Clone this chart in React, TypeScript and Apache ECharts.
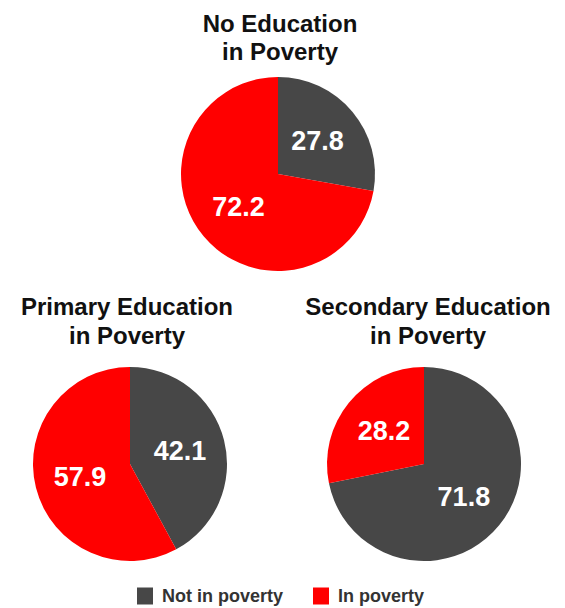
import React, { useEffect, useRef } from "react";
import * as echarts from "echarts";

const categories = ["Not in poverty", "In poverty"];
const colors = ["#474747", "#ff0000"];
const groups = ["No Education", "Primary Education", "Secondary Education"];
const titleSecondLine = "in Poverty";
const notInPoverty = [27.8, 42.1, 71.8];
const inPoverty = [72.2, 57.9, 28.2];

const centers: [number, number][] = [
  [278, 174],
  [130, 464],
  [424, 464],
];
const titleY: [number, number][] = [
  [23, 51],
  [306, 335],
];

export default function App() {
  const ref = useRef<HTMLDivElement>(null);
  useEffect(() => {
    document.body.style.margin = "0";
    if (!ref.current) return;
    const chart = echarts.init(ref.current, null, { renderer: "svg" });
    const font = "'Liberation Sans', Arial, Helvetica, sans-serif";
    const series = groups.map((g, i) => ({
      type: "pie",
      name: g,
      center: centers[i],
      radius: 97,
      startAngle: 90,
      clockwise: true,
      avoidLabelOverlap: false,
      silent: true,
      emphasis: { disabled: true },
      itemStyle: { borderWidth: 0 },
      label: {
        show: true,
        position: "inside",
        formatter: "{c}",
        color: "#ffffff",
        fontSize: 27,
        fontWeight: "bold",
        fontFamily: font,
      },
      labelLine: { show: false },
      data: [
        { name: categories[0], value: notInPoverty[i], itemStyle: { color: colors[0] } },
        { name: categories[1], value: inPoverty[i], itemStyle: { color: colors[1] } },
      ],
    }));
    const graphics: any[] = [];
    groups.forEach((g, i) => {
      const ty = titleY[i === 0 ? 0 : 1];
      const cx = i === 0 ? 280 : i === 1 ? 127 : 428;
      [g, titleSecondLine].forEach((line, j) => {
        graphics.push({
          type: "text",
          x: cx,
          y: ty[j],
          style: {
            text: line,
            align: "center",
            verticalAlign: "middle",
            font: `bold 24px ${font}`,
            fill: "#111111",
          },
        });
      });
    });
    chart.setOption({
      animation: false,
      backgroundColor: "#ffffff",
      legend: {
        data: categories,
        left: 137,
        top: 587,
        padding: 0,
        itemWidth: 16,
        itemHeight: 17,
        itemGap: 30,
        icon: "rect",
        selectedMode: false,
        textStyle: {
          fontSize: 18,
          fontWeight: "bold",
          color: "#333333",
          fontFamily: font,
          padding: [0, 0, 0, 4],
        },
      },
      graphic: graphics,
      series,
    });
    return () => chart.dispose();
  }, []);
  return <div ref={ref} style={{ width: 565, height: 608 }} />;
}
